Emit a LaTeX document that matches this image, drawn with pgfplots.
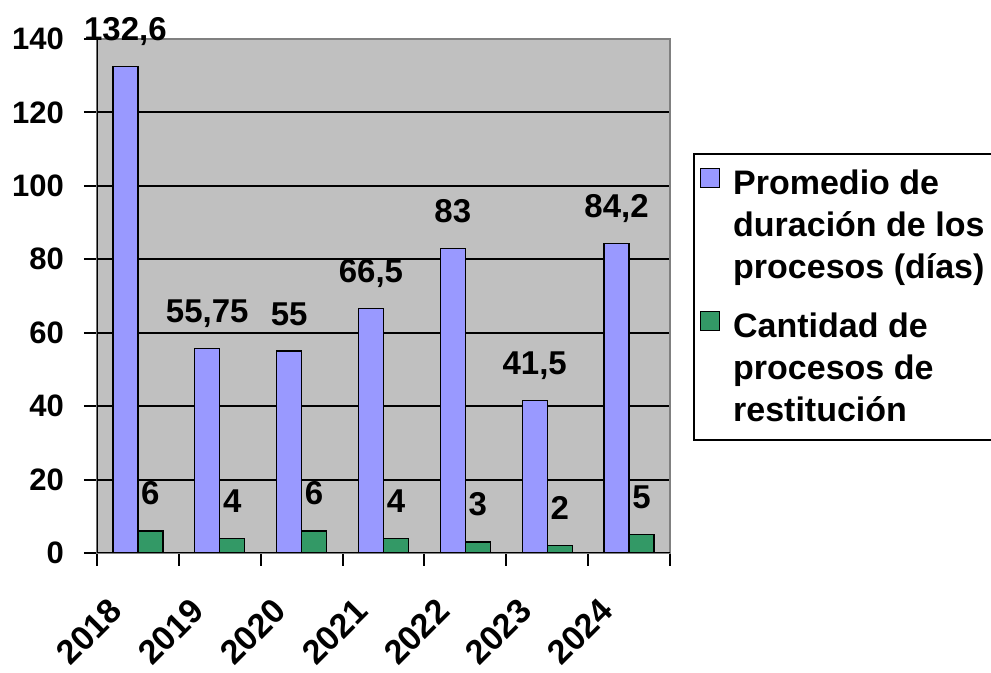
\documentclass[border=0pt]{standalone}
\usepackage{pgfplots}
\pgfplotsset{compat=1.18}
\usepackage{fontspec}
\setmainfont{Liberation Sans}
\definecolor{barblue}{HTML}{9999FF}
\definecolor{bargreen}{HTML}{339966}
\definecolor{plotgray}{HTML}{C0C0C0}
\definecolor{bordergray}{HTML}{808080}
\newcommand{\tickfont}{\fontsize{15.5}{18}\selectfont\bfseries}
\newcommand{\yearfont}{\fontsize{17}{20}\selectfont\bfseries}
\newcommand{\chartfont}{\fontsize{16.5}{21}\selectfont\bfseries}
\newcommand{\legendfont}{\fontsize{17}{21}\selectfont\bfseries}

\begin{document}
\begin{tikzpicture}
\begin{axis}[
    width=286.5pt, height=257pt, scale only axis,
    xmin=-0.5, xmax=6.5, ymin=0, ymax=140,
    ybar=0pt, bar width=12.5pt,
    axis background/.style={fill=plotgray},
    axis line style={bordergray, line width=1pt},
    ytick={0,20,...,140},
    ymajorgrids, grid style={black, line width=1pt},
    ytick align=outside, ytick pos=left,
    yticklabel style={xshift=-6.5pt},
    major tick length=6.5pt,
    xtick={-0.5,0.5,...,6.5}, xticklabels={},
    xtick align=outside, xtick pos=bottom,
    extra x ticks={0,1,2,3,4,5,6},
    extra x tick labels={2018,2019,2020,2021,2022,2023,2024},
    extra x tick style={tick style={draw=none},
        xticklabel style={font=\yearfont, xshift=-8.5pt, yshift=-17pt, rotate=45, anchor=east}},
    tick style={black, line width=1pt},
    tick label style={font=\tickfont},
    /pgf/number format/assume math mode=true,
    point meta=explicit symbolic,
    nodes near coords,
    every node near coord/.append style={font=\chartfont, anchor=base, yshift=13pt},
    legend cell align=left,
    legend style={at={(1,0.7782)}, anchor=north west, xshift=11.5pt,
        draw=black, line width=1pt, font=\legendfont, cells={align=left},
        row sep=11.5pt, column sep=4.5pt, inner ysep=6pt},
    legend image code/.code={\draw[#1, line width=0.6pt] (4pt,19pt) rectangle (13.5pt,28.5pt);},
]
\addplot[draw=black, line width=0.6pt, fill=barblue]
    coordinates {(0,132.6) [132,6] (1,55.75) [55,75] (2,55) [55] (3,66.5) [66,5]
                 (4,83) [83] (5,41.5) [41,5] (6,84.2) [84,2]};
\addlegendentry{Promedio de\\duración de los\\procesos (días)}
\addplot[draw=black, line width=0.6pt, fill=bargreen]
    coordinates {(0,6) [6] (1,4) [4] (2,6) [6] (3,4) [4]
                 (4,3) [3] (5,2) [2] (6,5) [5]};
\addlegendentry{Cantidad de\\procesos de\\restitución}
\draw[bordergray, line width=1pt] (rel axis cs:0,1) -- (rel axis cs:1,1) -- (rel axis cs:1,0);
\draw[black, line width=1pt] (rel axis cs:0,1) -- (rel axis cs:0,0) -- (rel axis cs:1,0);
\end{axis}
\pgfresetboundingbox
\path[use as bounding box] (-48.5pt,-60pt) rectangle (447pt,276.5pt);
\end{tikzpicture}
\end{document}
